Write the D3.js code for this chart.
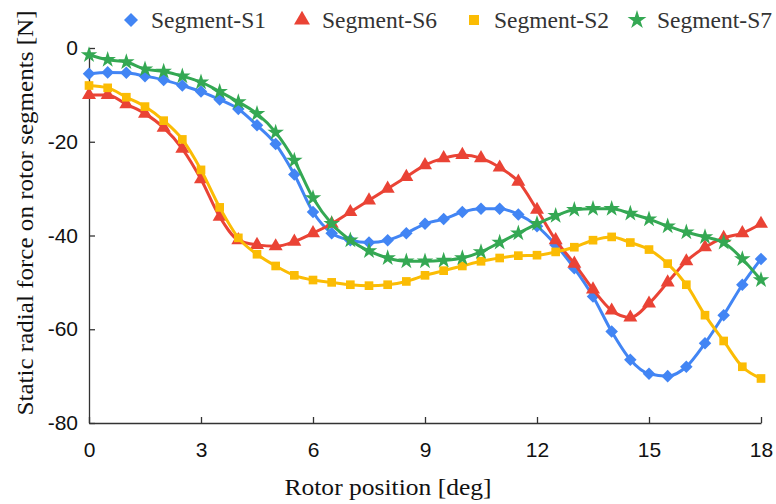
<!DOCTYPE html>
<meta charset="utf-8">
<script src="https://d3js.org/d3.v7.min.js"></script>
<style>
  body { margin: 0; background: #fff; }
</style>
<div id="chart"></div>
<script>

// rotor position every 0.5 deg, 0..18
var positions = d3.range(0, 18.01, 0.5);

var segS1 = [-5.5, -5.2, -5.3, -6.0, -6.8, -8.0, -9.3, -11, -13, -16.5, -20.5, -27, -35, -39.5, -41, -41.5, -41, -39.5,
  -37.5, -36.5, -35, -34.3, -34.3, -35.5, -38, -42, -47, -53, -60.5, -66.5, -69.5, -70, -68, -63, -57, -50.5, -45];
var segS6 = [-10, -10, -12, -14, -17, -21.5, -28, -36, -41, -42, -42.3, -41.3, -39.5, -37.5, -35, -32.5, -30, -27.5,
  -25, -23.5, -22.8, -23.5, -25.5, -28.5, -34.5, -41, -46, -51.5, -56, -57.5, -54.5, -50, -45.5, -42.5, -40.5, -39.5, -37.5];
var segS2 = [-8, -8.5, -10.5, -12.5, -15.5, -19.5, -26, -34, -40.5, -44, -46.5, -48.5, -49.5, -50, -50.5, -50.7, -50.5, -49.8,
  -48.5, -47.5, -46.5, -45.5, -44.8, -44.3, -44.2, -43.5, -42.5, -41, -40.3, -41.5, -43, -46, -50.5, -57, -62.5, -68, -70.5];
var segS7 = [-1.5, -2.5, -3, -4.5, -5, -6, -7.3, -9.3, -11.5, -14, -18, -24, -32, -37.5, -41, -43.3, -44.8, -45.5,
  -45.5, -45.3, -44.8, -43.5, -41.5, -39.5, -37.5, -35.8, -34.5, -34.3, -34.3, -35.3, -36.5, -38, -39.3, -40.3, -41.5, -45, -49.5];

var seriesNames = ["Segment-S1", "Segment-S6", "Segment-S2", "Segment-S7"];
var seriesData = [segS1, segS6, segS2, segS7];
var seriesColors = ["#4285F4", "#EA4335", "#FBBC04", "#34A853"];
var seriesSymbols = [d3.symbolDiamond2, d3.symbolTriangle, d3.symbolSquare, d3.symbolStar];
var symbolSizes = [100, 85, 75, 85];

var xTicks = [0, 3, 6, 9, 12, 15, 18];
var yTicks = [0, -20, -40, -60, -80];

var W = 776, H = 504;
var margin = {top: 48, right: 15, bottom: 81, left: 89},
    width = W - margin.left - margin.right,
    height = H - margin.top - margin.bottom;

var svgRoot = d3.select("#chart").append("svg")
    .attr("width", W)
    .attr("height", H);
var svg = svgRoot.append("g")
    .attr("transform", "translate(" + margin.left + "," + margin.top + ")");

var x = d3.scaleLinear().domain([0, 18]).range([0, 672]);
var y = d3.scaleLinear().domain([-80, 0]).range([height, 0]);

var tickFont = "'Liberation Sans', Arial, sans-serif";
var serif = "'Liberation Serif', 'Times New Roman', serif";
var plain = function(d) { return String(d); };  // keep ASCII hyphen for negatives

// axes with inward ticks
var xAxis = svg.append("g")
  .attr("transform", "translate(0," + height + ")")
  .call(d3.axisBottom(x).tickValues(xTicks).tickFormat(plain).tickSizeInner(-6).tickSizeOuter(0).tickPadding(19));
var yAxis = svg.append("g")
  .call(d3.axisLeft(y).tickValues(yTicks).tickFormat(plain).tickSizeInner(-6).tickSizeOuter(0).tickPadding(11));

[xAxis, yAxis].forEach(function(a) {
  a.select(".domain").attr("stroke", "#333").attr("stroke-width", 1.3);
  a.selectAll(".tick line").attr("stroke", "#333").attr("stroke-width", 1.3);
  a.selectAll(".tick text")
    .attr("font-family", tickFont)
    .attr("font-size", 21)
    .attr("fill", "#111");
});

// lines + markers
var line = d3.line()
  .x(function(d, i) { return x(positions[i]); })
  .y(function(d) { return y(d); })
  .curve(d3.curveMonotoneX);

seriesData.forEach(function(vals, k) {
  var g = svg.append("g");
  g.append("path")
    .datum(vals)
    .attr("fill", "none")
    .attr("stroke", seriesColors[k])
    .attr("stroke-width", 3)
    .attr("d", line);
  g.selectAll("path.m")
    .data(vals)
    .enter().append("path")
      .attr("class", "m")
      .attr("d", d3.symbol().type(seriesSymbols[k]).size(symbolSizes[k]))
      .attr("transform", function(d, i) { return "translate(" + x(positions[i]) + "," + y(d) + ")"; })
      .attr("fill", seriesColors[k]);
});

// legend
var legendX = [131, 302, 474, 637];
var legend = svgRoot.append("g");
seriesNames.forEach(function(name, k) {
  legend.append("path")
    .attr("d", d3.symbol().type(seriesSymbols[k]).size(symbolSizes[k] + 25))
    .attr("transform", "translate(" + legendX[k] + ",20)")
    .attr("fill", seriesColors[k]);
  legend.append("text")
    .attr("x", legendX[k] + 20)
    .attr("y", 28)
    .attr("font-family", serif)
    .attr("font-size", 23)
    .attr("textLength", 115)
    .attr("lengthAdjust", "spacingAndGlyphs")
    .attr("fill", "#333")
    .text(name);
});

// axis titles
svgRoot.append("text")
  .attr("x", 388)
  .attr("y", 495)
  .attr("text-anchor", "middle")
  .attr("font-family", serif)
  .attr("font-size", 23)
  .attr("textLength", 207)
  .attr("lengthAdjust", "spacingAndGlyphs")
  .attr("fill", "#111")
  .text("Rotor position [deg]");

svgRoot.append("text")
  .attr("transform", "translate(33,213) rotate(-90)")
  .attr("text-anchor", "middle")
  .attr("font-family", serif)
  .attr("font-size", 23)
  .attr("textLength", 405)
  .attr("lengthAdjust", "spacingAndGlyphs")
  .attr("fill", "#111")
  .text("Static radial force on rotor segments [N]");

</script>
